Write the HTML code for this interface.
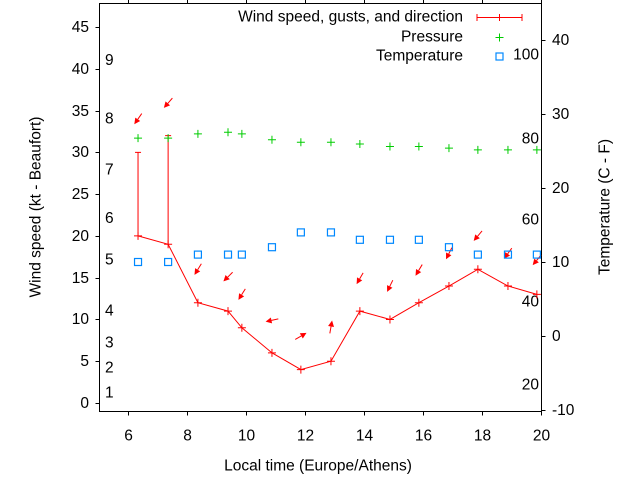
<!DOCTYPE html>
<html><head><meta charset="utf-8"><style>
body{margin:0;background:#fff}
svg{display:block;font-family:"Liberation Sans",sans-serif;font-size:15.5px}
</style></head><body>
<svg id="c" width="640" height="480" xmlns="http://www.w3.org/2000/svg">
<rect x="0" y="0" width="640" height="480" fill="#fff"/>
<g id="plot"></g>
</svg>
<script>
const times=[6.34,7.36,8.37,9.39,9.86,10.88,11.86,12.88,13.86,14.88,15.86,16.88,17.86,18.88,19.86];
const wind=[20,19,12,11,9,6,4,5,11,10,12,14,16,14,13];
const gusts=[30,32,null,null,null,null,null,null,null,null,null,null,null,null,null];
const pressure=[31.7,31.7,32.2,32.4,32.2,31.5,31.2,31.2,31.0,30.7,30.7,30.5,30.3,30.3,30.3];
const temperature=[10,10,11,11,11,12,14,14,13,13,13,12,11,11,11];
const arrowPos=[34.0,35.9,16.0,15.1,13.0,9.9,8.0,9.1,14.9,14.0,15.9,17.9,20.0,17.9,17.1];
const windDir=[35,41,32,45,32,78,240,190,30,26,31,27,40,36,40];
const xTicks=[6,8,10,12,14,16,18,20];
const yTicks=[0,5,10,15,20,25,30,35,40,45];
const y2Ticks=[-10,0,10,20,30,40];
const beaufortLabels=["1","2","3","4","5","6","7","8","9"];
const beaufortPos=[1.2,4.2,7.2,11,17.1,22.1,27.9,34,41];
const fahrLabels=["20","40","60","80","100"];
const fahrPos=[-6.6,4.6,15.7,26.6,38];

const L=99.5,R=541.5,T=3.5,B=411.5;
const X=t=>128+(t-6)*29.5;
const Y=v=>403-v*8.356;
const Y2=t=>40+(40-t)*7.4;
const NS="http://www.w3.org/2000/svg";
const g=document.getElementById('plot');
function mk(tag,attrs,parent){const e=document.createElementNS(NS,tag);for(const k in attrs)e.setAttribute(k,attrs[k]);(parent||g).appendChild(e);return e;}
function txt(s,x,y,anchor,name,rot){const e=mk('text',{x:x,y:y,'text-anchor':anchor||'start','dominant-baseline':'central',fill:'#000'});if(rot)e.setAttribute('transform',`rotate(${rot} ${x} ${y})`);e.textContent=s;return e;}

const fr=mk('rect',{x:L,y:T,width:R-L,height:B-T,fill:'none',stroke:'#000','stroke-width':1});



xTicks.forEach(t=>{const x=Math.round(X(t))+0.5;
 const a=mk('line',{x1:x,y1:B,x2:x,y2:B+4,stroke:'#000'});
 const b=mk('line',{x1:x,y1:T,x2:x,y2:T-4,stroke:'#000'});
 txt(String(t),x,436,'middle','x-tick-label');});
yTicks.forEach(v=>{const y=Math.round(Y(v))+0.5;
 const a=mk('line',{x1:L-4,y1:y,x2:L,y2:y,stroke:'#000'});
 txt(String(v),89,y,'end','y-tick-label');});
y2Ticks.forEach(v=>{const y=Math.round(Y2(v))+0.5;
 const a=mk('line',{x1:R,y1:y,x2:R+4,y2:y,stroke:'#000'});
 txt(String(v),552,y,'start','y2-tick-label');});
beaufortLabels.forEach((s,i)=>txt(s,105,Y(beaufortPos[i]),'start','beaufort-label'));
fahrLabels.forEach((s,i)=>txt(s,539,Y2(fahrPos[i]),'end','fahrenheit-label'));

txt('Local time (Europe/Athens)',318,466,'middle','x-axis-title');
txt('Wind speed (kt - Beaufort)',36,207,'middle','y-axis-title',-90);
txt('Temperature (C - F)',605,207,'middle','y2-axis-title',-90);

function plus(x,y,col,name){const p=mk('path',{d:`M${x-4} ${y}H${x+4}M${x} ${y-4}V${y+4}`,stroke:col,'stroke-width':1,fill:'none'});}

const wl=mk('polyline',{points:times.map((t,i)=>X(t)+','+Y(wind[i])).join(' '),fill:'none',stroke:'#f00','stroke-width':1});


times.forEach((t,i)=>{plus(X(t),Y(wind[i]),'#f00','wind-point');
 if(gusts[i]!=null){const e=mk('path',{d:`M${X(t)} ${Y(wind[i])}V${Y(gusts[i])}M${X(t)-3} ${Y(gusts[i])}H${X(t)+3}`,stroke:'#f00',fill:'none'});}
});
times.forEach((t,i)=>{const d=windDir[i]*Math.PI/180,ux=-Math.sin(d),uy=Math.cos(d),len=13;
 const cx=X(t),cy=Y(arrowPos[i]);
 const hx=cx+ux*len/2,hy=cy+uy*len/2,tx=cx-ux*len/2,ty=cy-uy*len/2;
 const px=-uy,py=ux,bx=hx-ux*6,by=hy-uy*6;
 const a=mk('g',{});
 mk('line',{x1:tx,y1:ty,x2:bx,y2:by,stroke:'#f00'},a);
 mk('polygon',{points:`${hx},${hy} ${bx+px*3},${by+py*3} ${bx-px*3},${by-py*3}`,fill:'#f00'},a);
});
times.forEach((t,i)=>plus(X(t),Y(pressure[i]),'#0c0','pressure-point'));
times.forEach((t,i)=>{const r=mk('rect',{x:X(t)-3.5,y:Y2(temperature[i])-3.5,width:7,height:7,fill:'none',stroke:'#08f','stroke-width':1.2});});

txt('Wind speed, gusts, and direction',463,17,'end','legend-wind-label');
const le=mk('path',{d:'M477 17.5H522M477 14V21M522 14V21M499.5 14V21',stroke:'#f00',fill:'none'});


txt('Pressure',463,37,'end','legend-pressure-label');
plus(499.5,37.5,'#0c0','legend-pressure-symbol');
txt('Temperature',463,56,'end','legend-temperature-label');
const ls=mk('rect',{x:496,y:53,width:7,height:7,fill:'none',stroke:'#08f','stroke-width':1.2});


</script>
</body></html>
